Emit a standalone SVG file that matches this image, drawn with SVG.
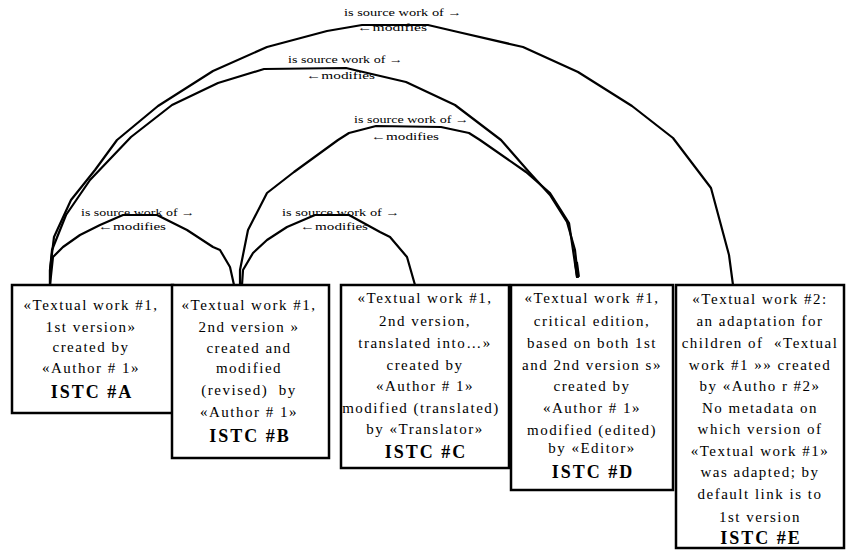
<svg xmlns="http://www.w3.org/2000/svg" width="846" height="552" viewBox="0 0 846 552">
<style>
.box{fill:#fff;stroke:#000;stroke-width:2.5}
.t{font-family:"Liberation Serif","Times New Roman",serif;font-size:15px;letter-spacing:1.5px;text-anchor:middle;fill:#000}
.pre{white-space:pre}
.b{font-family:"Liberation Serif","Times New Roman",serif;font-size:18px;font-weight:bold;letter-spacing:2px;text-anchor:middle;fill:#000}
.arc{fill:none;stroke:#000;stroke-width:2.2;stroke-linejoin:round;stroke-linecap:round}
.lb{font-family:"Liberation Serif","Times New Roman",serif;font-size:11px;fill:#000}
</style>
<rect width="846" height="552" fill="#fff"/>
<g id="connectors">
<polyline class="arc" points="50,285 50,270 54,237 71,200 95,170 117,140 158,106 213,71 267,47 327,31 362,25 428,25 458,32 523,47 578,72 632,106 673,138 711,188 729,255 733,285"/>
<polyline class="arc" points="50,285 50,270 52,250 66,215 90,180 131,137 172,105 218,83 264,69 346,68 406,82 455,105 501,140 529,172 550,195 567,222 575,250 578,277"/>
<polyline class="arc" points="240,285 240,270 248,230 267,193 294,172 338,140 349,133 376,126 441,127 469,133 480,140 526,172 550,193 569,223 577,277"/>
<polyline class="arc" points="50,285 53,257 63,247 80,235 100,225 123,215 157,215 187,230 213,247 220,250 230,267 234,285"/>
<polyline class="arc" points="242,285 243,270 253,253 267,240 287,227 315,215 349,215 380,232 390,237 407,257 415,285"/>
<line x1="576" y1="262" x2="578" y2="277" stroke="#000" stroke-width="4"/>
<text class="lb" x="344" y="16" textLength="118" lengthAdjust="spacingAndGlyphs">is source work of →</text>
<text class="lb" x="357" y="31" textLength="70" lengthAdjust="spacingAndGlyphs">←modifies</text>
<text class="lb" x="288" y="63" textLength="115" lengthAdjust="spacingAndGlyphs">is source work of →</text>
<text class="lb" x="306" y="79" textLength="69" lengthAdjust="spacingAndGlyphs">←modifies</text>
<text class="lb" x="354" y="123" textLength="115" lengthAdjust="spacingAndGlyphs">is source work of →</text>
<text class="lb" x="371" y="140" textLength="68" lengthAdjust="spacingAndGlyphs">←modifies</text>
<text class="lb" x="81" y="216" textLength="114" lengthAdjust="spacingAndGlyphs">is source work of →</text>
<text class="lb" x="98" y="230" textLength="68" lengthAdjust="spacingAndGlyphs">←modifies</text>
<text class="lb" x="282" y="216" textLength="118" lengthAdjust="spacingAndGlyphs">is source work of →</text>
<text class="lb" x="300" y="230" textLength="68" lengthAdjust="spacingAndGlyphs">←modifies</text>
</g>
<g id="nodeA">
<rect class="box" x="12" y="285" width="161" height="128"/>
<text class="t" x="91" y="310">«Textual work #1,</text>
<text class="t" x="91" y="332">1st version»</text>
<text class="t" x="91" y="352">created by</text>
<text class="t" x="91" y="373">«Author # 1»</text>
<text class="b" x="92" y="398">ISTC #A</text>
</g>
<g id="nodeB">
<rect class="box" x="172" y="285" width="157" height="173"/>
<text class="t" x="249" y="310">«Textual work #1,</text>
<text class="t" x="249" y="332">2nd version »</text>
<text class="t" x="249" y="353">created and</text>
<text class="t" x="249" y="373">modified</text>
<text class="t pre" x="249" y="395">(revised)  by</text>
<text class="t" x="249" y="417">«Author # 1»</text>
<text class="b" x="250" y="442">ISTC #B</text>
</g>
<g id="nodeC">
<rect class="box" x="341" y="285" width="168" height="183"/>
<text class="t" x="425" y="303">«Textual work #1,</text>
<text class="t" x="425" y="326">2nd version,</text>
<text class="t" x="425" y="348">translated into…»</text>
<text class="t" x="425" y="370">created by</text>
<text class="t" x="425" y="391">«Author # 1»</text>
<text class="t" x="421" y="413">modified (translated)</text>
<text class="t" x="425" y="434">by «Translator»</text>
<text class="b" x="426" y="458">ISTC #C</text>
</g>
<g id="nodeD">
<rect class="box" x="511" y="285" width="162" height="205"/>
<text class="t" x="592" y="303">«Textual work #1,</text>
<text class="t" x="592" y="326">critical edition,</text>
<text class="t" x="592" y="348">based on both 1st</text>
<text class="t" x="592" y="370">and 2nd version s»</text>
<text class="t" x="592" y="391">created by</text>
<text class="t" x="592" y="413">«Author # 1»</text>
<text class="t" x="592" y="435">modified (edited)</text>
<text class="t" x="592" y="453">by «Editor»</text>
<text class="b" x="593" y="478">ISTC #D</text>
</g>
<g id="nodeE">
<rect class="box" x="676" y="285" width="168" height="263"/>
<text class="t" x="760" y="304">«Textual work #2:</text>
<text class="t" x="760" y="326">an adaptation for</text>
<text class="t pre" x="760" y="348">children of  «Textual</text>
<text class="t" x="760" y="370">work #1 »» created</text>
<text class="t" x="760" y="391">by «Autho r #2»</text>
<text class="t" x="760" y="413">No metadata on</text>
<text class="t" x="760" y="434">which version of</text>
<text class="t" x="760" y="456">«Textual work #1»</text>
<text class="t" x="760" y="477">was adapted; by</text>
<text class="t" x="760" y="499">default link is to</text>
<text class="t" x="760" y="522">1st version</text>
<text class="b" x="761" y="544">ISTC #E</text>
</g>
</svg>
